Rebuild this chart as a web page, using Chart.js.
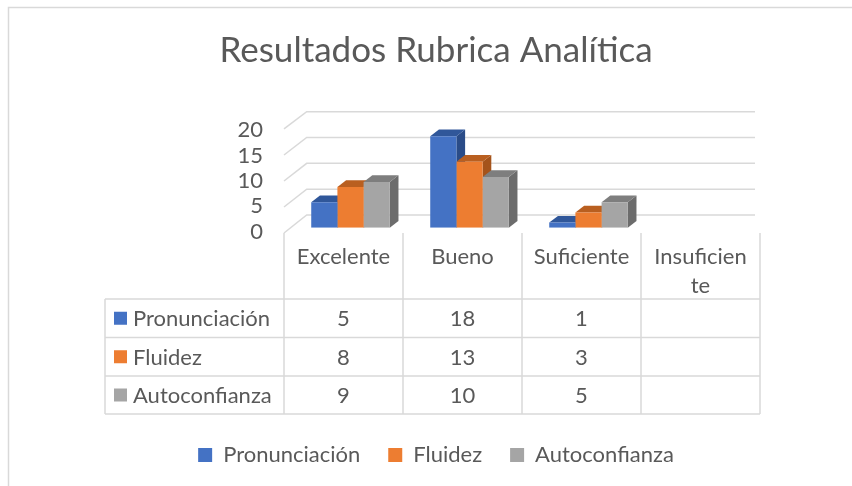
<!DOCTYPE html>
<html><head><meta charset="utf-8">
<script src="https://cdn.jsdelivr.net/npm/chart.js@4.4.1/dist/chart.umd.min.js"></script>
<style>html,body{margin:0;padding:0;background:#fff;overflow:hidden}</style>
</head><body>
<canvas id="c" width="852" height="486" style="width:852px;height:486px;display:block"></canvas>
<script>
// ---- data ----
const categories = ['Excelente', 'Bueno', 'Suficiente', ['Insuficien', 'te']];
const seriesNames = ['Pronunciación', 'Fluidez', 'Autoconfianza'];
const pronunciacion = [5, 18, 1, null];
const fluidez = [8, 13, 3, null];
const autoconfianza = [9, 10, 5, null];
const yTickValues = [0, 5, 10, 15, 20];
const titleText = 'Resultados Rubrica Analítica';

// ---- styles ----
const FONT = 'Lato, "Open Sans", sans-serif';
const TEXT = '#595959';
const GRID = '#d9d9d9';
const FRONT = ['#4472C4', '#ED7D31', '#A5A5A5'];
const TOP = ['#30579A', '#B95F20', '#7E7E7E'];
const SIDE = ['#2A4C88', '#A4531B', '#6C6C6C'];
const BAR_DX = 8.7, BAR_DY = 6.7;
const SHIFT = 7;          // bars sit deeper than the table front
const WALL_DX = 22.7;     // side-wall depth
const FS = 22;

const valuesBySeries = [pronunciacion, fluidez, autoconfianza];

const deco = {
  id: 'deco',
  beforeDraw(chart) {
    const ctx = chart.ctx;
    ctx.save();
    ctx.fillStyle = '#fff';
    ctx.fillRect(0, 0, chart.width, chart.height);
    ctx.strokeStyle = '#d9d9d9';
    ctx.lineWidth = 1.5;
    ctx.strokeRect(8.5, 7.5, 1000, 1000);
    ctx.restore();
  },
  beforeDatasetsDraw(chart) {
    const ctx = chart.ctx;
    const xs = chart.scales.x, ys = chart.scales.y;
    const bottom = ys.getPixelForValue(0);
    const catW = xs.getPixelForValue(1) - xs.getPixelForValue(0);
    const frontLeft = xs.getPixelForValue(0) - catW / 2 - SHIFT;
    const tableRight = xs.getPixelForValue(categories.length - 1) + catW / 2 - SHIFT;
    ctx.save();
    // back wall + side wall grid lines
    ctx.strokeStyle = GRID;
    ctx.lineWidth = 1.5;
    yTickValues.forEach(v => {
      const p = ys.getPixelForValue(v);
      const fy = bottom + 5.3 + (p - bottom) * 1.024;
      const by = bottom - 12.7 + (p - bottom) * 1.017;
      ctx.beginPath();
      ctx.moveTo(frontLeft, fy);
      ctx.lineTo(frontLeft + WALL_DX, by);
      ctx.lineTo(xs.right - 12, by);
      ctx.stroke();
    });
    // data table
    const tTop = bottom + 5.3, tLeft = 105;
    const rowY = [299, 337.5, 376, 414];
    for (let i = 0; i <= categories.length; i++) {
      const x = frontLeft + i * catW;
      ctx.beginPath(); ctx.moveTo(x, tTop); ctx.lineTo(x, rowY[3]); ctx.stroke();
    }
    ctx.beginPath(); ctx.moveTo(tLeft, rowY[0]); ctx.lineTo(tLeft, rowY[3]); ctx.stroke();
    rowY.forEach(y => { ctx.beginPath(); ctx.moveTo(tLeft, y); ctx.lineTo(tableRight, y); ctx.stroke(); });
    ctx.font = FS + 'px ' + FONT;
    ctx.textBaseline = 'middle';
    valuesBySeries.forEach((vals, s) => {
      const cy = (rowY[s] + rowY[s + 1]) / 2;
      ctx.fillStyle = FRONT[s];
      ctx.fillRect(114, cy - 6.5, 13, 13);
      ctx.fillStyle = TEXT;
      ctx.textAlign = 'left';
      ctx.fillText(seriesNames[s], 133, cy + 1);
      ctx.textAlign = 'center';
      vals.forEach((v, i) => {
        if (v === null) return;
        ctx.fillText(String(v), xs.getPixelForValue(i) - SHIFT, cy + 1);
      });
    });
    // 3D faces (behind the front faces drawn by Chart.js)
    for (let i = 0; i < categories.length; i++) {
      for (let s = 0; s < valuesBySeries.length; s++) {
        if (valuesBySeries[s][i] === null) continue;
        const bar = chart.getDatasetMeta(s).data[i];
        const {x, y, base, width} = bar.getProps(['x', 'y', 'base', 'width'], true);
        const l = x - width / 2, r = x + width / 2;
        ctx.fillStyle = SIDE[s];
        ctx.beginPath();
        ctx.moveTo(r, y); ctx.lineTo(r + BAR_DX, y - BAR_DY);
        ctx.lineTo(r + BAR_DX, base - BAR_DY); ctx.lineTo(r, base);
        ctx.closePath(); ctx.fill();
        ctx.fillStyle = TOP[s];
        ctx.beginPath();
        ctx.moveTo(l, y); ctx.lineTo(r, y);
        ctx.lineTo(r + BAR_DX, y - BAR_DY); ctx.lineTo(l + BAR_DX, y - BAR_DY);
        ctx.closePath(); ctx.fill();
      }
    }
    ctx.restore();
  }
};

new Chart(document.getElementById('c'), {
  type: 'bar',
  data: {
    labels: categories,
    datasets: seriesNames.map((n, s) => ({
      label: n,
      data: valuesBySeries[s],
      backgroundColor: FRONT[s],
      borderWidth: 0,
      categoryPercentage: 0.66,
      barPercentage: 1
    }))
  },
  options: {
    responsive: false,
    animation: false,
    devicePixelRatio: 1,
    layout: { padding: { left: 105, right: 85, top: 0, bottom: 10 } },
    plugins: {
      title: {
        display: true,
        text: titleText,
        color: TEXT,
        font: { family: FONT, size: 35, weight: 'normal', lineHeight: 1.2 },
        padding: { top: 30, bottom: 54.1 }
      },
      legend: {
        position: 'bottom',
        labels: {
          color: TEXT,
          font: { family: FONT, size: FS },
          boxWidth: 14, boxHeight: 14,
          padding: 28
        }
      },
      tooltip: { enabled: false }
    },
    scales: {
      x: {
        grid: { display: false, drawTicks: false },
        border: { display: false },
        ticks: {
          color: TEXT, font: { family: FONT, size: FS, lineHeight: 1.32 },
          padding: 14.5, labelOffset: -SHIFT, maxRotation: 0, autoSkip: false
        },
        afterFit(scale) { scale.height = 188.3; }
      },
      y: {
        min: 0, max: 20,
        grid: { display: false, drawTicks: false },
        border: { display: false },
        ticks: { stepSize: 5, autoSkip: false, color: TEXT, font: { family: FONT, size: FS }, padding: 28, labelOffset: 4 },
        afterFit(scale) { scale.width = 186; }
      }
    }
  },
  plugins: [deco]
});
</script>
</body></html>
